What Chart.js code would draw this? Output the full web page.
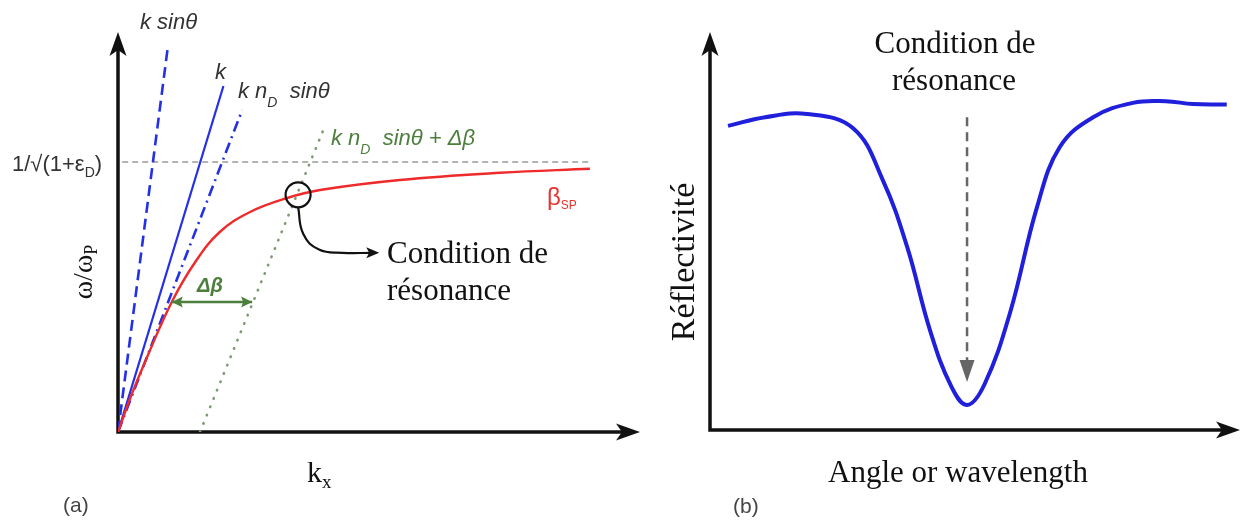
<!DOCTYPE html>
<html>
<head>
<meta charset="utf-8">
<script src="https://cdn.jsdelivr.net/npm/chart.js@4.4.0/dist/chart.umd.min.js"></script>
<style>
  html, body { margin: 0; padding: 0; background: #fff; }
  #wrap { position: relative; width: 1244px; height: 522px; overflow: hidden; background: #fff; }
  canvas { position: absolute; top: 0; }
  #chartA { left: 0; }
  #chartB { left: 660px; }
</style>
</head>
<body>
<div id="wrap">
  <canvas id="chartA" width="660" height="522"></canvas>
  <canvas id="chartB" width="584" height="522"></canvas>
</div>
<script>
// ---- panel (a): dispersion diagram, x = k_x, y = omega/omega_P (arbitrary units 0..10)
const kSinX = [0, 0.96];
const kSinY = [0, 9.68];
const kLineX = [0, 2.02];
const kLineY = [0, 8.65];
const kNdX = [0, 2.38];
const kNdY = [0, 8.05];
const kNdDbX = [1.57, 3.98];
const kNdDbY = [0, 7.7];
const asymX = [0.08, 9.08];
const asymY = [6.75, 6.75];
const betaSpX = [0, 0.25, 0.55, 1.03, 1.48, 1.95, 2.53, 3.24, 3.87, 5.40, 7.32, 9.04];
const betaSpY = [0, 0.90, 1.85, 3.25, 4.25, 5.00, 5.50, 5.85, 6.05, 6.30, 6.48, 6.58];
const resX = [3.45];
const resY = [5.93];
const linkX = [3.45, 3.55, 3.85, 4.30, 4.87];
const linkY = [5.63, 4.95, 4.56, 4.48, 4.48];
const dBetaX = [1.03, 2.57];
const dBetaY = [3.25, 3.25];

// ---- panel (b): reflectivity vs angle or wavelength (arbitrary units 0..10)
const reflX = [0.34, 1.04, 1.83, 2.70, 3.26, 3.72, 4.15, 4.55, 4.85, 5.18, 5.66, 6.17, 6.60, 7.23, 7.98, 8.60, 9.11, 9.75];
const reflY = [7.64, 7.86, 7.94, 7.58, 6.28, 4.60, 2.51, 1.10, 0.63, 1.15, 2.94, 5.60, 7.11, 7.86, 8.22, 8.26, 8.19, 8.18];
const dipArrowX = [4.85, 4.85];
const dipArrowY = [7.86, 1.76];

function pts(xs, ys) {
    return xs.map(function(x, i) { return { x: x, y: ys[i] }; });
}

const SANS = '"Liberation Sans", Arial, sans-serif';
const SERIF = '"Liberation Serif", "Times New Roman", serif';
const GREEN = '#4c7f3c';

// arrow head with a notched back, tip at (x, y), pointing along angle
function arrowHead(ctx, x, y, angle, len, halfW, notch, color) {
    ctx.save();
    ctx.translate(x, y);
    ctx.rotate(angle);
    ctx.beginPath();
    ctx.moveTo(0, 0);
    ctx.lineTo(-len, -halfW);
    ctx.lineTo(-notch, 0);
    ctx.lineTo(-len, halfW);
    ctx.closePath();
    ctx.fillStyle = color;
    ctx.fill();
    ctx.restore();
}

// text made of runs: {t, font, color, dy}
function richText(ctx, runs, x, y) {
    ctx.save();
    ctx.textBaseline = 'alphabetic';
    ctx.textAlign = 'left';
    let cx = x;
    runs.forEach(function(r) {
        ctx.font = r.font;
        ctx.fillStyle = r.color;
        ctx.fillText(r.t, cx, y + (r.dy || 0));
        cx += ctx.measureText(r.t).width;
    });
    ctx.restore();
}

function richWidth(ctx, runs) {
    let w = 0;
    ctx.save();
    runs.forEach(function(r) { ctx.font = r.font; w += ctx.measureText(r.t).width; });
    ctx.restore();
    return w;
}

function rotatedText(ctx, runs, cx, cy) {
    ctx.save();
    ctx.translate(cx, cy);
    ctx.rotate(-Math.PI / 2);
    const w = richWidth(ctx, runs);
    richText(ctx, runs, -w / 2, 0);
    ctx.restore();
}

function axesPlugin(id) {
    return {
        id: id,
        beforeDatasetsDraw: function(chart) {
            const ctx = chart.ctx;
            const xs = chart.scales.x, ys = chart.scales.y;
            const x0 = xs.getPixelForValue(0), y0 = ys.getPixelForValue(0);
            const xEnd = xs.getPixelForValue(10), yEnd = ys.getPixelForValue(10);
            ctx.save();
            ctx.strokeStyle = '#111';
            ctx.lineWidth = 3.5;
            ctx.beginPath();
            ctx.moveTo(x0, yEnd + 14);
            ctx.lineTo(x0, y0);
            ctx.lineTo(xEnd - 14, y0);
            ctx.stroke();
            ctx.restore();
            arrowHead(ctx, x0, yEnd, -Math.PI / 2, 24, 8.5, 18, '#111');
            arrowHead(ctx, xEnd, y0, 0, 24, 8.5, 18, '#111');
        }
    };
}

const overlayA = {
    id: 'overlayA',
    afterDatasetsDraw: function(chart) {
        const ctx = chart.ctx;
        const xs = chart.scales.x, ys = chart.scales.y;
        // double arrow for delta beta
        arrowHead(ctx, xs.getPixelForValue(dBetaX[0]), ys.getPixelForValue(dBetaY[0]), Math.PI, 11, 5.5, 9, GREEN);
        arrowHead(ctx, xs.getPixelForValue(dBetaX[1]), ys.getPixelForValue(dBetaY[1]), 0, 11, 5.5, 9, GREEN);
        // arrow to the "Condition de résonance" label
        const lx = linkX[linkX.length - 1], ly = linkY[linkY.length - 1];
        arrowHead(ctx, xs.getPixelForValue(lx) + 7, ys.getPixelForValue(ly), 0, 13, 5.5, 10, '#111');

        const it = 'italic 22px ' + SANS;
        const itSub = 'italic 14px ' + SANS;
        richText(ctx, [{ t: 'k sinθ', font: it, color: '#333' }], 140, 29);
        richText(ctx, [{ t: 'k', font: it, color: '#333' }], 215, 79);
        richText(ctx, [
            { t: 'k n', font: it, color: '#333' },
            { t: 'D', font: itSub, color: '#333', dy: 9 },
            { t: '  sinθ', font: it, color: '#333' }
        ], 238, 98);
        richText(ctx, [
            { t: 'k n', font: it, color: GREEN },
            { t: 'D', font: itSub, color: GREEN, dy: 9 },
            { t: '  sinθ + ', font: it, color: GREEN },
            { t: 'Δβ', font: it, color: GREEN }
        ], 331, 145);
        richText(ctx, [
            { t: '1/√(1+ε', font: '22px ' + SANS, color: '#333' },
            { t: 'D', font: '14px ' + SANS, color: '#333', dy: 6 },
            { t: ')', font: '22px ' + SANS, color: '#333' }
        ], 12, 171);
        richText(ctx, [
            { t: 'β', font: '24px ' + SANS, color: '#e8322f' },
            { t: 'SP', font: '12px ' + SANS, color: '#e8322f', dy: 4 }
        ], 547, 205);
        richText(ctx, [{ t: 'Δβ', font: 'italic bold 20px ' + SANS, color: GREEN }], 197, 292);
        richText(ctx, [{ t: 'Condition de', font: '31px ' + SERIF, color: '#111' }], 387, 263);
        richText(ctx, [{ t: 'résonance', font: '31px ' + SERIF, color: '#111' }], 387, 300);
        richText(ctx, [
            { t: 'k', font: '30px ' + SERIF, color: '#111' },
            { t: 'x', font: '19px ' + SERIF, color: '#111', dy: 6 }
        ], 307, 482);
        rotatedText(ctx, [
            { t: 'ω/ω', font: '28px ' + SERIF, color: '#111' },
            { t: 'P', font: '18px ' + SERIF, color: '#111', dy: 5 }
        ], 92, 272);
        richText(ctx, [{ t: '(a)', font: '21px ' + SANS, color: '#444' }], 63, 512);
    }
};

const overlayB = {
    id: 'overlayB',
    afterDatasetsDraw: function(chart) {
        const ctx = chart.ctx;
        const xs = chart.scales.x, ys = chart.scales.y;
        arrowHead(ctx, xs.getPixelForValue(dipArrowX[1]), ys.getPixelForValue(dipArrowY[1]) + 22,
            Math.PI / 2, 22, 7.5, 22, '#666');
        ctx.save();
        ctx.font = '31px ' + SERIF;
        ctx.fillStyle = '#111';
        ctx.textAlign = 'center';
        ctx.fillText('Condition de', 295, 53);
        ctx.fillText('résonance', 294, 90);
        ctx.textAlign = 'left';
        ctx.fillText('Angle or wavelength', 168, 482);
        ctx.restore();
        rotatedText(ctx, [{ t: 'Réflectivité', font: '34px ' + SERIF, color: '#111' }], 34, 262);
        richText(ctx, [{ t: '(b)', font: '21px ' + SANS, color: '#444' }], 73, 513);
    }
};

const hiddenScales = {
    x: { type: 'linear', min: 0, max: 10, display: false },
    y: { type: 'linear', min: 0, max: 10, display: false }
};

const baseOptions = {
    responsive: false,
    animation: false,
    events: [],
    plugins: { legend: { display: false }, tooltip: { enabled: false } },
    elements: { point: { radius: 0 } }
};

new Chart(document.getElementById('chartA').getContext('2d'), {
    type: 'line',
    data: {
        datasets: [
            { data: pts(asymX, asymY), borderColor: '#9a9a9a', borderWidth: 1.5, borderDash: [6, 4], order: 9 },
            { data: pts(kSinX, kSinY), borderColor: '#2430e6', borderWidth: 2.6, borderDash: [11, 6], order: 6 },
            { data: pts(kLineX, kLineY), borderColor: '#2430e6', borderWidth: 2.2, order: 5 },
            { data: pts(kNdX, kNdY), borderColor: '#2430e6', borderWidth: 2.6, borderDash: [11, 5, 2, 5], order: 4 },
            { data: pts(kNdDbX, kNdDbY), borderColor: '#7f9a76', borderWidth: 2.6, borderDash: [0.5, 8.5],
              borderCapStyle: 'round', order: 7 },
            { data: pts(betaSpX, betaSpY), borderColor: '#ee2a2a', borderWidth: 2.4, tension: 0.4, order: 3 },
            { data: pts(resX, resY), showLine: false, pointRadius: 12.5, pointBorderWidth: 2.2,
              pointBorderColor: '#111', pointBackgroundColor: 'rgba(0,0,0,0)', order: 1 },
            { data: pts(linkX, linkY), borderColor: '#111', borderWidth: 2.2, tension: 0.45, order: 2 },
            { data: pts(dBetaX, dBetaY), borderColor: GREEN, borderWidth: 2.4, order: 2 }
        ]
    },
    options: Object.assign({}, baseOptions, {
        layout: { padding: { left: 118, right: 20, top: 32, bottom: 90 } },
        scales: hiddenScales
    }),
    plugins: [axesPlugin('axesA'), overlayA]
});

new Chart(document.getElementById('chartB').getContext('2d'), {
    type: 'line',
    data: {
        datasets: [
            { data: pts(reflX, reflY), borderColor: '#1f1fdc', borderWidth: 4, tension: 0.4, order: 1 },
            { data: pts(dipArrowX, dipArrowY), borderColor: '#666', borderWidth: 2.5, borderDash: [9, 6], order: 2 }
        ]
    },
    options: Object.assign({}, baseOptions, {
        layout: { padding: { left: 50, right: 4, top: 32, bottom: 92 } },
        scales: hiddenScales
    }),
    plugins: [axesPlugin('axesB'), overlayB]
});
</script>
</body>
</html>
